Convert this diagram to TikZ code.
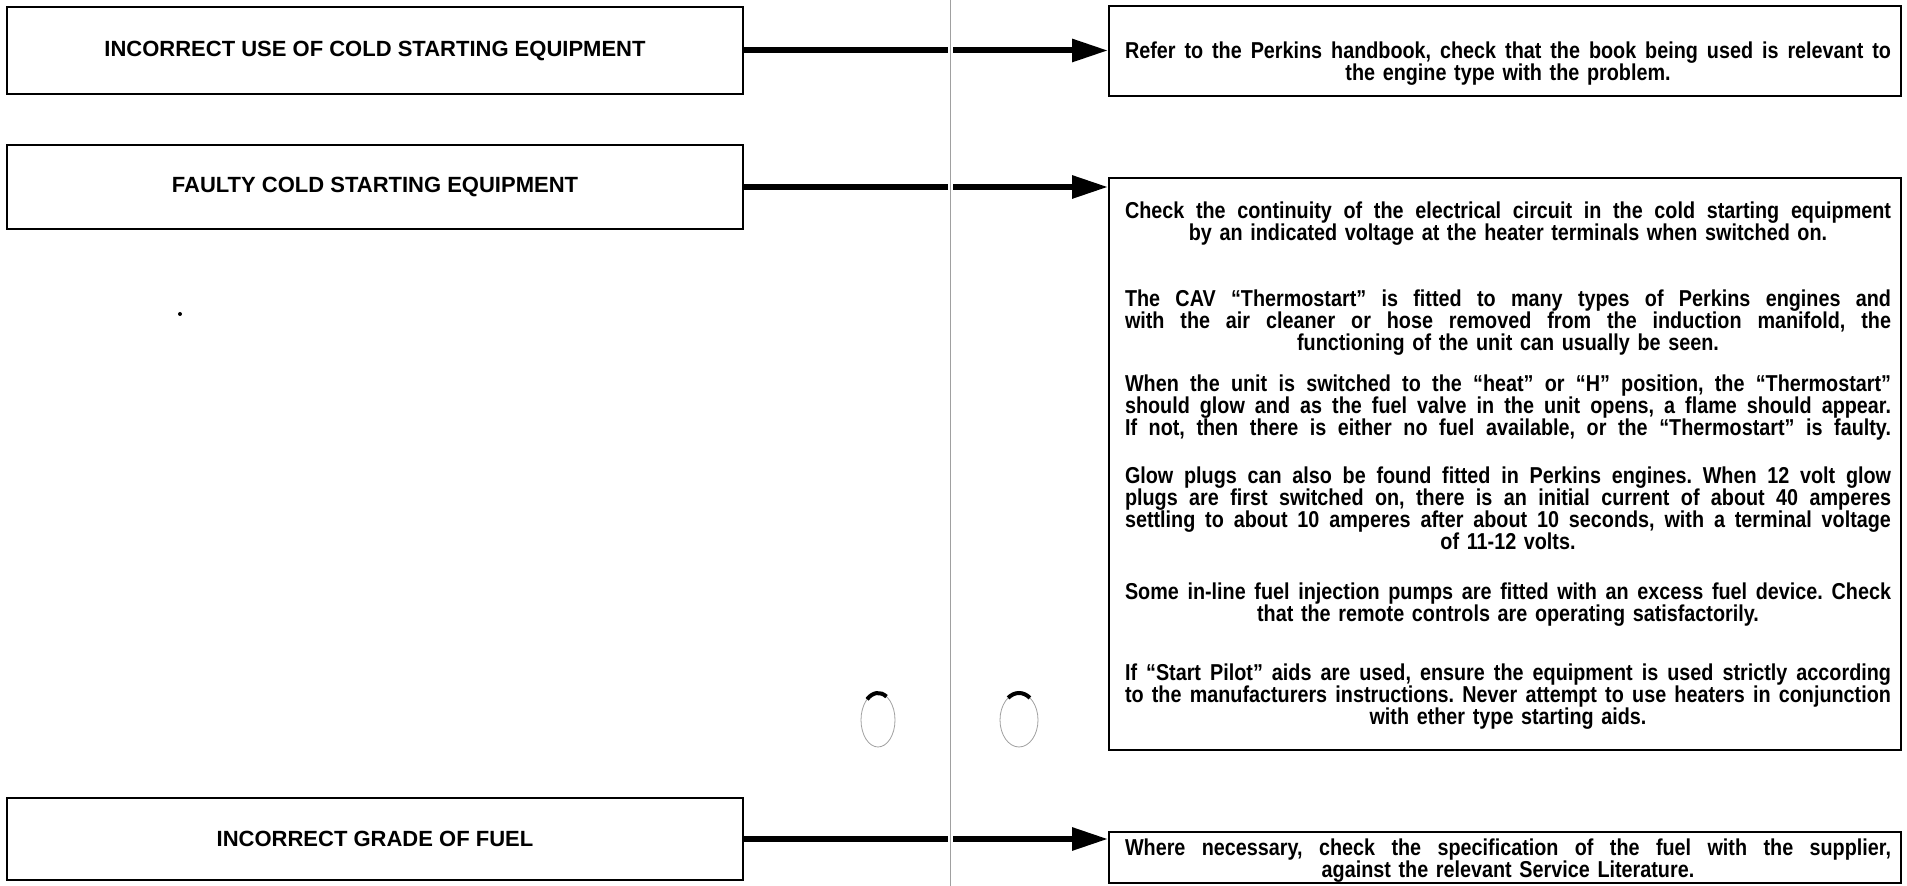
\documentclass[tikz,border=0pt]{standalone}
\usepackage{fontspec}
\setmainfont{Liberation Sans}
\newfontfamily\narrowfont{Liberation Sans}[FakeStretch=0.86, Ligatures=TeX]
\usetikzlibrary{arrows.meta, calc}
\definecolor{scangray}{RGB}{160,160,160}
\newlength{\remw}
\setlength{\remw}{383pt}
\newcommand{\jline}[1]{{\spaceskip=0pt\xspaceskip=0pt\makebox[\remw][s]{#1}}}
\frenchspacing

\tikzset{
  causebox/.style={draw, line width=1pt, minimum width=368pt,
    font=\bfseries\fontsize{11}{12}\selectfont},
  remedybox/.style={draw, line width=1pt, minimum width=396pt},
  remedytext/.style={text width=\remw, align=center, inner sep=0pt, anchor=base,
    font=\narrowfont\bfseries\fontsize{11.5}{11}\selectfont},
  fatarrow/.style={line width=3pt, -{Triangle[length=18pt, width=11pt]}},
}

\begin{document}
\begin{tikzpicture}[x=0.5pt, y=-0.5pt]
  \useasboundingbox (0,0) rectangle (1907,886);

  % causes
  \node[causebox, minimum height=43.5pt] (lbox1) at (375,50.5) {INCORRECT USE OF COLD STARTING EQUIPMENT};
  \node[causebox, minimum height=42pt] (lbox2) at (375,187) {FAULTY COLD STARTING EQUIPMENT};
  \node[causebox, minimum height=41pt] (lbox3) at (375,839) {INCORRECT GRADE OF FUEL};

  % remedies
  \node[remedybox, minimum height=45pt] (rbox1) at (1505,51) {};
  \node[remedybox, minimum height=286pt] (rbox2) at (1505,464) {};
  \node[remedybox, minimum height=25.5pt] (rbox3) at (1505,858) {};

  \node[remedytext] (rtext1) at (1508,59) {
    \jline{Refer to the Perkins handbook, check that the book being used is relevant to}\\
    the engine type with the problem.};

  \node[remedytext] (rtext2a) at (1508,219) {
    \jline{Check the continuity of the electrical circuit in the cold starting equipment}\\
    by an indicated voltage at the heater terminals when switched on.};
  \node[remedytext] (rtext2b) at (1508,307) {
    \jline{The CAV ``Thermostart'' is fitted to many types of Perkins engines and}\\
    \jline{with the air cleaner or hose removed from the induction manifold, the}\\
    functioning of the unit can usually be seen.};
  \node[remedytext] (rtext2c) at (1508,392) {
    \jline{When the unit is switched to the ``heat'' or ``H'' position, the ``Thermostart''}\\
    \jline{should glow and as the fuel valve in the unit opens, a flame should appear.}\\
    \jline{If not, then there is either no fuel available, or the ``Thermostart'' is faulty.}};
  \node[remedytext] (rtext2d) at (1508,484) {
    \jline{Glow plugs can also be found fitted in Perkins engines. When 12 volt glow}\\
    \jline{plugs are first switched on, there is an initial current of about 40 amperes}\\
    \jline{settling to about 10 amperes after about 10 seconds, with a terminal voltage}\\
    of 11-12 volts.};
  \node[remedytext] (rtext2e) at (1508,600) {
    \jline{Some in-line fuel injection pumps are fitted with an excess fuel device. Check}\\
    that the remote controls are operating satisfactorily.};
  \node[remedytext] (rtext2f) at (1508,681) {
    \jline{If ``Start Pilot'' aids are used, ensure the equipment is used strictly according}\\
    \jline{to the manufacturers instructions. Never attempt to use heaters in conjunction}\\
    with ether type starting aids.};

  \node[remedytext] (rtext3) at (1508,856) {
    \jline{Where necessary, check the specification of the fuel with the supplier,}\\
    against the relevant Service Literature.};

  % connectors
  \draw[fatarrow] (lbox1.east) -- (lbox1.east -| rbox1.west);
  \draw[fatarrow] (lbox2.east) -- (lbox2.east -| rbox2.west);
  \draw[fatarrow] (lbox3.east) -- (lbox3.east -| rbox3.west);

  % page fold
  \coordinate (foldtop) at (950,0);
  \coordinate (foldbot) at (950,886);
  \draw[white, line width=2.5pt] (foldtop) -- (foldbot);
  \draw[scangray, line width=0.5pt] (foldtop) -- (foldbot);

  % punch holes
  \coordinate (holeL) at (878,720);
  \coordinate (holeR) at (1019,720);
  \draw[scangray, line width=0.4pt] (holeL) ellipse [x radius=17, y radius=27];
  \draw[scangray, line width=0.4pt] (holeR) ellipse [x radius=19, y radius=27];
  \draw[line width=2pt] (holeL) ++(-130:17 and 27) arc[start angle=-130, end angle=-60, x radius=17, y radius=27];
  \draw[line width=2pt] (holeR) ++(-125:19 and 27) arc[start angle=-125, end angle=-55, x radius=19, y radius=27];
  \fill (180,314) circle[radius=2];
\end{tikzpicture}
\end{document}
